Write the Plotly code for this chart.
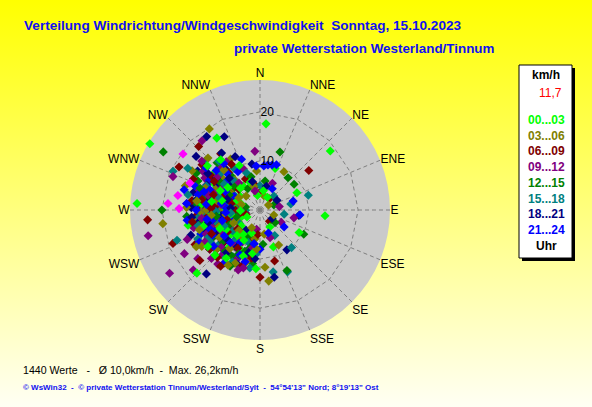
import base64
import plotly.graph_objects as go

W, H = 592, 407

# compass sectors and radial scale (km/h)
COMPASS = ["N", "NNE", "NE", "ENE", "E", "ESE", "SE", "SSE",
           "S", "SSW", "SW", "WSW", "W", "WNW", "NW", "NNW"]
RADIAL_TICKS = [10, 20]
R_MAX = 26.5

HOUR_LABELS = ["00...03", "03...06", "06...09", "09...12",
               "12...15", "15...18", "18...21", "21...24"]
HOUR_COLORS = ["#00FF00", "#808000", "#800000", "#800080",
               "#008000", "#008080", "#000080", "#0000FF"]

# (direction in degrees, speed in km/h)
WIND_00_03 = [(268, 8), (275, 10), (282, 6), (255, 9), (262, 12), (290, 7), (300, 11), (245, 6),
              (238, 10), (315, 9), (325, 6), (250, 4), (270, 3), (280, 13), (295, 14), (260, 7),
              (230, 8), (305, 5), (285, 9), (265, 11), (273, 5), (248, 13), (340, 6), (215, 6),
              (200, 5), (350, 3), (10, 4), (30, 3), (150, 4), (310, 12), (258, 15), (288, 4),
              (242, 3), (220, 10), (335, 10), (20, 9), (160, 8), (205, 9),
              (272, 7), (266, 9), (258, 11), (284, 8), (292, 5), (250, 7), (276, 12), (262, 6),
              (240, 8), (305, 8), (230, 5), (318, 6), (268, 4), (280, 10), (254, 12), (296, 9),
              (222, 7), (245, 9),
              (200, 10), (215, 12), (190, 9), (225, 13), (310, 14), (322, 13), (208, 7), (235, 13),
              (4, 17.6), (50, 18.7), (95, 13.3), (301, 26.2), (273, 25.1), (225, 18.2),
              (184, 12), (329, 17.1), (65, 8.3), (120, 9.2)]
WIND_03_06 = [(270, 9), (265, 6), (278, 11), (290, 8), (252, 10), (245, 12), (300, 7), (310, 10),
              (285, 13), (258, 5), (275, 4), (235, 7), (225, 9), (320, 8), (330, 12), (295, 10),
              (262, 14), (280, 7), (250, 8), (240, 5), (215, 7), (190, 6), (345, 5), (355, 8),
              (15, 3), (60, 2), (110, 3), (170, 5), (205, 4), (272, 15), (305, 14), (288, 16),
              (232, 12), (268, 12), (315, 4),
              (268, 8), (274, 6), (282, 9), (256, 11), (262, 7), (292, 12), (248, 9), (300, 5),
              (236, 10), (310, 7), (270, 11), (286, 4), (244, 6), (278, 13), (264, 10), (226, 6),
              (318, 11), (252, 13),
              (195, 11), (218, 10), (205, 12), (228, 12), (315, 15), (300, 16), (185, 8), (238, 14),
              (328, 19.5), (262, 20), (173, 14.6), (32, 9.2), (152, 8.1), (175, 11.7),
              (240, 15), (210, 13)]
WIND_06_09 = [(268, 10), (272, 7), (260, 9), (280, 8), (250, 11), (290, 12), (255, 6), (245, 8),
              (238, 12), (300, 9), (310, 7), (265, 13), (275, 5), (285, 11), (228, 10), (220, 7),
              (320, 10), (335, 7), (198, 6), (350, 5), (5, 4), (40, 3), (140, 3), (185, 5),
              (262, 4), (278, 14), (295, 15), (242, 15), (258, 12), (270, 12), (252, 3),
              (305, 12), (215, 11), (325, 14),
              (266, 8), (276, 9), (284, 6), (258, 10), (248, 9), (292, 8), (270, 5), (262, 11),
              (236, 8), (302, 11), (254, 7), (280, 12), (244, 11), (314, 6), (272, 10), (230, 6),
              (288, 10), (260, 14),
              (210, 9), (198, 12), (222, 13), (190, 10), (308, 15), (328, 11), (215, 14), (232, 13),
              (51, 12.8), (265, 23), (249, 19), (316, 18), (298, 18.7), (180, 13.7),
              (164, 10.8), (230, 16)]
WIND_09_12 = [(270, 6), (262, 8), (275, 12), (285, 9), (250, 10), (245, 7), (295, 6), (300, 13),
              (255, 14), (280, 4), (265, 10), (240, 11), (230, 9), (312, 9), (322, 7), (338, 9),
              (220, 12), (210, 8), (200, 10), (275, 15), (288, 13), (258, 3), (190, 4), (120, 5),
              (80, 4), (345, 4), (25, 6), (160, 6), (225, 14), (248, 16),
              (268, 9), (272, 11), (282, 7), (258, 9), (264, 6), (290, 10), (246, 12), (300, 9),
              (236, 7), (278, 8), (254, 11), (308, 11), (270, 4), (242, 9), (286, 11), (226, 11),
              (316, 12), (262, 12),
              (205, 11), (215, 9), (192, 8), (218, 14), (304, 14), (325, 12), (200, 13), (240, 13),
              (320, 18.4), (291, 19), (257, 23.4), (235, 22.5), (240, 17.8), (228, 18.3),
              (232, 16.1), (196, 12.3), (103, 7.1), (355, 12), (310, 15.5)]
WIND_12_15 = [(268, 9), (280, 10), (255, 7), (290, 11), (262, 5), (245, 10), (300, 8), (275, 13),
              (285, 6), (250, 12), (235, 8), (310, 11), (320, 9), (225, 6), (260, 11), (272, 7),
              (295, 14), (240, 14), (215, 9), (205, 6), (330, 5), (345, 7), (10, 6), (70, 3),
              (130, 4), (175, 7), (195, 8), (265, 15), (282, 3), (252, 9),
              (270, 10), (264, 8), (276, 7), (288, 9), (258, 12), (250, 8), (282, 12), (296, 7),
              (240, 11), (268, 6), (305, 10), (230, 10), (274, 11), (254, 5), (312, 7), (244, 7),
              (290, 13), (262, 9),
              (200, 9), (212, 11), (220, 11), (188, 11), (318, 13), (300, 15), (228, 12), (206, 10),
              (301, 23), (19, 12.5), (53, 8.7), (41, 8.7), (119, 10.2), (156, 13.5),
              (208, 13), (270, 20)]
WIND_15_18 = [(270, 7), (265, 10), (278, 9), (258, 8), (290, 10), (248, 11), (285, 12), (300, 6),
              (240, 9), (275, 5), (305, 13), (262, 13), (230, 11), (318, 8), (328, 10), (220, 8),
              (255, 5), (282, 15), (210, 11), (200, 7), (340, 8), (0, 5), (45, 4), (100, 5),
              (150, 6), (185, 9), (268, 3), (295, 8), (245, 14), (235, 5),
              (272, 8), (266, 12), (280, 11), (260, 10), (286, 7), (252, 9), (294, 12), (276, 7),
              (242, 12), (268, 9), (306, 9), (232, 7), (288, 9), (256, 13), (314, 11), (264, 6),
              (246, 8), (278, 13),
              (198, 10), (208, 12), (216, 12), (225, 13), (312, 15), (320, 13), (190, 12), (236, 12),
              (294, 19.4), (73, 10.3), (79, 6.4), (168, 12.9), (156, 13.8), (300, 17),
              (250, 18), (140, 10)]
WIND_18_21 = [(270, 8), (262, 11), (280, 7), (255, 9), (290, 9), (248, 6), (275, 12), (300, 10),
              (265, 5), (285, 14), (240, 10), (310, 8), (232, 13), (320, 11), (258, 13), (225, 7),
              (295, 12), (272, 14), (250, 15), (215, 5), (335, 12), (205, 10), (345, 6), (15, 5),
              (60, 4), (125, 3), (190, 7), (268, 4), (282, 10), (302, 15),
              (266, 9), (276, 10), (258, 7), (284, 11), (270, 10), (252, 12), (294, 8), (262, 8),
              (244, 8), (288, 7), (306, 11), (236, 10), (274, 6), (280, 13), (256, 11), (316, 9),
              (228, 9), (264, 14),
              (202, 12), (212, 9), (218, 11), (195, 9), (305, 13), (326, 14), (230, 12), (186, 10),
              (324, 18.5), (334, 16.6), (146, 9.8), (98, 8), (168, 14), (220, 17),
              (350, 9.5), (310, 17)]
WIND_21_24 = [(270, 8), (266, 10), (276, 9), (260, 7), (288, 8), (252, 9), (282, 11), (295, 10),
              (245, 10), (272, 12), (264, 13), (300, 12), (238, 8), (308, 9), (278, 6), (255, 12),
              (290, 14), (230, 10), (318, 10), (268, 5), (285, 4), (248, 13), (225, 11), (330, 9),
              (212, 8), (340, 11), (200, 9), (30, 5), (160, 5), (180, 8), (275, 15), (262, 15),
              (298, 6), (242, 14), (250, 6), (285, 16), (270, 11),
              (268, 9), (274, 7), (280, 8), (258, 10), (292, 11), (262, 9), (250, 11), (284, 13),
              (242, 11), (298, 8), (266, 7), (276, 11), (254, 8), (312, 12), (234, 9), (270, 13),
              (288, 12), (260, 11),
              (204, 10), (214, 13), (222, 9), (196, 11), (308, 14), (322, 12), (232, 12), (190, 7),
              (5, 9), (10, 9.3), (15, 9.5), (20, 9.8), (97, 8.2), (355, 9), (125, 6), (75, 7)]
WIND_LATEST = [(306, 19.4), (274, 18.8), (271, 16.5), (291, 15.3), (280, 17)]

CURRENT_SPEED = "11,7"
N_VALUES = 1440
MEAN_SPEED = "10,0"
MAX_SPEED = "26,2"
FOOTER = "© WsWin32  -  © private Wetterstation Tinnum/Westerland/Sylt  -  54°54'13\" Nord; 8°19'13\" Ost"


def px(x, y):
    return x / W, 1 - y / H


groups = [WIND_00_03, WIND_03_06, WIND_06_09, WIND_09_12,
          WIND_12_15, WIND_15_18, WIND_18_21, WIND_21_24]

fig = go.Figure()

# helper traces so the background disk and the dashed grid get drawn
fig.add_trace(go.Scatterpolar(r=[0], theta=[0], subplot="polar", mode="markers",
                              marker=dict(opacity=0), hoverinfo="skip", showlegend=False))
fig.add_trace(go.Scatterpolar(r=[0] * len(COMPASS), theta=COMPASS, subplot="polar2", mode="markers",
                              marker=dict(opacity=0), hoverinfo="skip", showlegend=False))

# draw the groups interleaved so no single colour buries the others
theta, r, colors = [], [], []
for i in range(max(len(g) for g in groups)):
    for g, c in zip(groups, HOUR_COLORS):
        if i < len(g):
            theta.append(g[i][0])
            r.append(g[i][1])
            colors.append(c)
for d, s in WIND_LATEST:
    theta.append(d)
    r.append(s)
    colors.append("#FF00FF")

fig.add_trace(go.Scatterpolar(
    theta=theta, r=r, subplot="polar3", mode="markers", showlegend=False,
    marker=dict(symbol="diamond", size=7, color=colors, line=dict(width=0))))

dom = dict(x=[130 / W, 390 / W], y=[(H - 340) / H, (H - 80) / H])
hidden_radial = dict(range=[0, R_MAX], visible=False)
grid = dict(gridcolor="#7F7F7F", griddash="4px,3px", gridwidth=1)

fig.update_layout(
    width=W, height=H,
    margin=dict(l=0, r=0, t=0, b=0),
    paper_bgcolor="#FFFF80",
    showlegend=False,
    font=dict(family="Liberation Sans, Arial", size=12, color="black"),
    polar=dict(
        domain=dom, bgcolor="#CACACA",
        radialaxis=hidden_radial,
        angularaxis=dict(visible=False, direction="clockwise", rotation=90),
    ),
    polar2=dict(
        domain=dom, bgcolor="rgba(0,0,0,0)", gridshape="linear",
        radialaxis=dict(range=[0, R_MAX], angle=90, tickvals=RADIAL_TICKS,
                        showline=False, ticks="", showticklabels=False, **grid),
        angularaxis=dict(type="category", categoryarray=COMPASS, direction="clockwise",
                         rotation=90, showline=False, ticks="",
                         tickfont=dict(size=12, color="black"), **grid),
    ),
    polar3=dict(
        domain=dom, bgcolor="rgba(0,0,0,0)",
        # speed labels sit above the points
        radialaxis=dict(range=[0, R_MAX], angle=90, tickangle=90, tickvals=RADIAL_TICKS,
                        showline=False, showgrid=False, ticks="", side="clockwise",
                        tickfont=dict(size=12, color="black")),
        angularaxis=dict(visible=False, direction="clockwise", rotation=90),
    ),
)

# yellow to pale vertical gradient behind everything
svg = ('<svg xmlns="http://www.w3.org/2000/svg" width="592" height="407" preserveAspectRatio="none">'
       '<defs><linearGradient id="g" x1="0" y1="0" x2="0" y2="1">'
       '<stop offset="0" stop-color="#FFFF00"/><stop offset="1" stop-color="#FFFFF4"/>'
       '</linearGradient></defs><rect width="592" height="407" fill="url(#g)"/></svg>')
fig.add_layout_image(dict(source="data:image/svg+xml;base64," + base64.b64encode(svg.encode()).decode(),
                          xref="paper", yref="paper", x=0, y=1, sizex=1, sizey=1,
                          sizing="stretch", xanchor="left", yanchor="top", layer="below"))


def note(x, y, text, size, color, anchor="center"):
    xp, yp = px(x, y)
    fig.add_annotation(x=xp, y=yp, xref="paper", yref="paper", xanchor=anchor, yanchor="middle",
                       showarrow=False, text=text, font=dict(size=size, color=color))


# titles
blue = "#1010F0"
note(22, 25, "<b>Verteilung Windrichtung/Windgeschwindigkeit  Sonntag, 15.10.2023</b>", 13.6, blue, "left")
note(497, 49, "<b>private Wetterstation Westerland/Tinnum</b>", 13.4, blue, "right")

# bottom notes
note(21, 370, f"{N_VALUES} Werte   -   Ø {MEAN_SPEED}km/h  -  Max. {MAX_SPEED}km/h", 10.6, "black", "left")
note(21, 387, f"<b>{FOOTER}</b>", 8, blue, "left")

# legend box with shadow
bx0, by0, bx1, by1 = 519, 65, 572, 258
for dx, fill, lw in [(3, "black", 0), (0, "white", 1)]:
    a, b = px(bx0 + dx, by0 + dx)
    c, d = px(bx1 + dx, by1 + dx)
    fig.add_shape(type="rect", xref="paper", yref="paper", x0=a, y0=d, x1=c, y1=b,
                  fillcolor=fill, line=dict(color="black", width=lw), layer="below")

note(546, 75, "<b>km/h</b>", 12, "black")
note(550, 93, CURRENT_SPEED, 12, "#FF0000")
for i, (label, color) in enumerate(zip(HOUR_LABELS, HOUR_COLORS)):
    note(546, 120 + i * 15.7, f"<b>{label}</b>", 12, color)
note(546, 246, "<b>Uhr</b>", 12, "black")

# page margin off so the figure sits at the window's top-left corner
fig.write_html("out.html", config={"displayModeBar": False},
               post_script="document.body.style.margin='0';document.body.style.overflow='hidden';")
